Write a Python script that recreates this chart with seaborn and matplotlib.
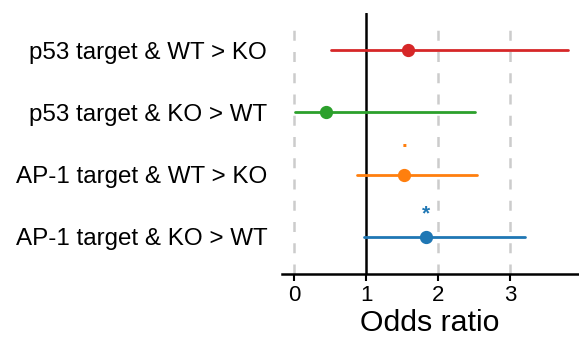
import matplotlib
matplotlib.use("Agg")
import matplotlib.pyplot as plt
import seaborn as sns
import pandas as pd

categories = ["p53 target & WT > KO", "p53 target & KO > WT",
              "AP-1 target & WT > KO", "AP-1 target & KO > WT"]
odds_ratio = [1.58, 0.44, 1.53, 1.83]
ci_low = [0.505, 0.01, 0.87, 0.97]
ci_high = [3.81, 2.51, 2.54, 3.20]
signif = ["", "", ".", "*"]
colors = ["#d62728", "#2ca02c", "#ff7f0e", "#1f77b4"]

rows = []
for c, lo, est, hi in zip(categories, ci_low, odds_ratio, ci_high):
    for v in (lo, est, hi):
        rows.append({"category": c, "value": v})
df = pd.DataFrame(rows)

sns.set_style("white")
plt.rcParams["font.family"] = ["Liberation Sans", "DejaVu Sans"]
plt.rcParams["text.color"] = "black"
plt.rcParams["axes.labelcolor"] = "black"
plt.rcParams["xtick.color"] = "black"
plt.rcParams["ytick.color"] = "black"

fig = plt.figure(figsize=(5.79, 3.47), dpi=100)
ax = fig.add_axes([0.4866, 0.2104, 0.5114, 0.7521])

for xv in [0, 2, 3]:
    ax.axvline(xv, ymax=0.975, color="#cccccc", lw=1.8, ls=(0, (4, 4.5)), zorder=0)
ax.axvline(1, color="black", lw=1.8, zorder=1)

sns.pointplot(data=df, x="value", y="category", hue="category", order=categories,
              hue_order=categories, palette=colors, estimator="median",
              errorbar=("pi", 100), linestyle="none", markersize=7.5,
              err_kws={"linewidth": 2}, legend=False, ax=ax)

offsets = {".": 33, "*": 23}
for i, (s, est, c) in enumerate(zip(signif, odds_ratio, colors)):
    if s:
        ax.annotate(s, (est, i), xytext=(0, offsets[s]), textcoords="offset pixels",
                    color=c, ha="center", va="center", fontsize=15, fontweight="bold")

ax.set_xlim(-0.175, 3.94)
ax.set_ylim(3.6, -0.6)
ax.set_xticks([0, 1, 2, 3])
ax.set_xlabel("Odds ratio", fontsize=21.8, labelpad=2)
ax.set_ylabel("")
for sp in ["top", "right", "left"]:
    ax.spines[sp].set_visible(False)
ax.spines["bottom"].set_linewidth(1.8)
ax.spines["bottom"].set_color("black")
ax.tick_params(axis="x", bottom=True, length=5, width=1.5, labelsize=16, color="black", pad=3)
ax.tick_params(axis="y", left=False, labelsize=17.4, pad=7)

fig.savefig("out.png", dpi=100)
